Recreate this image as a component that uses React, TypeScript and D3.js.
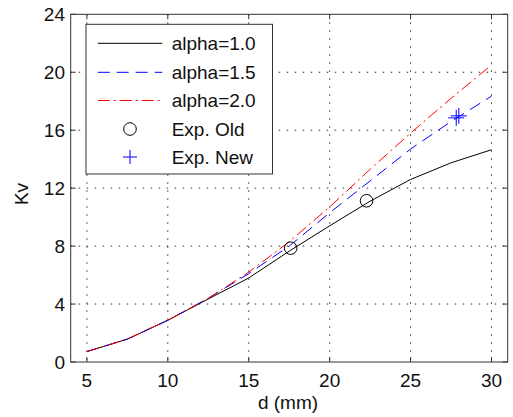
import React from "react";
import * as d3 from "d3";

const dValues = [5, 7.5, 10, 12.5, 15, 17.5, 20, 22.5, 25, 27.5, 30];
const alpha10 = [0.72, 1.58, 2.88, 4.35, 5.8, 7.65, 9.4, 11.1, 12.6, 13.75, 14.65];
const alpha15 = [0.72, 1.58, 2.88, 4.4, 6.1, 8.0, 10.3, 12.5, 14.7, 16.6, 18.35];
const alpha20 = [0.72, 1.58, 2.88, 4.4, 6.2, 8.3, 10.7, 13.3, 15.8, 18.2, 20.5];
const expOldD = [17.59, 22.28];
const expOldKv = [7.86, 11.13];
const expNewD = [27.82, 27.98];
const expNewKv = [16.85, 16.99];
const xTicks = [5, 10, 15, 20, 25, 30];
const yTicks = [0, 4, 8, 12, 16, 20, 24];
const legendLabels = ["alpha=1.0", "alpha=1.5", "alpha=2.0", "Exp. Old", "Exp. New"];

const FONT = "'Liberation Sans', Arial, sans-serif";

export default function App() {
  const W = 513, H = 417;
  const L = 70.7, R = 507.7, T = 14.3, B = 362;
  const x = d3.scaleLinear().domain([4, 31]).range([L, R]);
  const y = d3.scaleLinear().domain([0, 24]).range([B, T]);
  const line = (vals: number[]) =>
    d3.line<number>().x((_, i) => x(dValues[i])).y((v) => y(v))(vals) || "";

  const series = [
    { vals: alpha10, color: "#000000", dash: "none" },
    { vals: alpha15, color: "#0000ff", dash: "12,7" },
    { vals: alpha20, color: "#ff0000", dash: "12,4,2,4" },
  ];

  const gridDash = "1.5,6.5";
  const legRows = [43.3, 72.3, 100.5, 129, 157];

  const plus = (cx: number, cy: number, s: number, key: string) => (
    <g key={key} stroke="#0000ff" strokeWidth={1}>
      <line x1={cx - s} x2={cx + s} y1={cy} y2={cy} />
      <line x1={cx} x2={cx} y1={cy - s} y2={cy + s} />
    </g>
  );

  return (
    <svg
      width={W}
      height={H}
      style={{ position: "absolute", left: 0, top: 0, background: "#fff" }}
      fontFamily={FONT}
    >
      <rect x={0} y={0} width={W} height={H} fill="#fff" />
      {/* grid */}
      {xTicks.map((t) => (
        <line key={"gx" + t} x1={x(t)} x2={x(t)} y1={T} y2={B} stroke="#000" strokeWidth={1} strokeDasharray={gridDash} opacity={0.8} />
      ))}
      {yTicks.filter((t) => t > 0 && t < 24).map((t) => (
        <line key={"gy" + t} x1={L} x2={R} y1={y(t)} y2={y(t)} stroke="#000" strokeWidth={1} strokeDasharray={gridDash} opacity={0.8} />
      ))}
      {/* ticks */}
      {xTicks.map((t) => (
        <g key={"tx" + t} stroke="#333" strokeWidth={1}>
          <line x1={x(t)} x2={x(t)} y1={B} y2={B - 5} />
          <line x1={x(t)} x2={x(t)} y1={T} y2={T + 5} />
        </g>
      ))}
      {yTicks.map((t) => (
        <g key={"ty" + t} stroke="#333" strokeWidth={1}>
          <line x1={L} x2={L + 5} y1={y(t)} y2={y(t)} />
          <line x1={R} x2={R - 5} y1={y(t)} y2={y(t)} />
        </g>
      ))}
      {/* series */}
      {series.map((s, i) => (
        <path key={"s" + i} d={line(s.vals)} fill="none" stroke={s.color} strokeWidth={1} strokeDasharray={s.dash} />
      ))}
      {expOldD.map((d, i) => (
        <circle key={"o" + i} cx={x(d)} cy={y(expOldKv[i])} r={6.3} fill="none" stroke="#000" strokeWidth={1} />
      ))}
      {expNewD.map((d, i) => plus(x(d), y(expNewKv[i]), 8, "p" + i))}
      {/* axes box */}
      <rect x={L} y={T} width={R - L} height={B - T} fill="none" stroke="#333" strokeWidth={1} />
      {/* tick labels */}
      {xTicks.map((t) => (
        <text key={"lx" + t} x={x(t)} y={387} textAnchor="middle" fontSize={19} fill="#111">{t}</text>
      ))}
      {yTicks.map((t) => (
        <text key={"ly" + t} x={65} y={y(t)} dy="0.35em" textAnchor="end" fontSize={19} fill="#111">{t}</text>
      ))}
      <text x={288} y={409} textAnchor="middle" fontSize={19} fill="#111">d (mm)</text>
      <text transform={`translate(28,194) rotate(-90)`} textAnchor="middle" fontSize={19} fill="#111">Kv</text>
      {/* legend */}
      <rect x={86} y={24.3} width={186.5} height={149.7} fill="#fff" stroke="#333" strokeWidth={1} />
      {series.map((s, i) => (
        <line key={"ll" + i} x1={97.7} x2={162.3} y1={legRows[i]} y2={legRows[i]} stroke={s.color} strokeWidth={1} strokeDasharray={s.dash} />
      ))}
      <circle cx={130} cy={legRows[3]} r={6.3} fill="none" stroke="#000" strokeWidth={1} />
      {plus(130, legRows[4], 7, "lp")}
      {legendLabels.map((lab, i) => (
        <text key={"lt" + i} x={171.7} y={legRows[i]} dy="0.35em" fontSize={19} fill="#111">{lab}</text>
      ))}
    </svg>
  );
}
